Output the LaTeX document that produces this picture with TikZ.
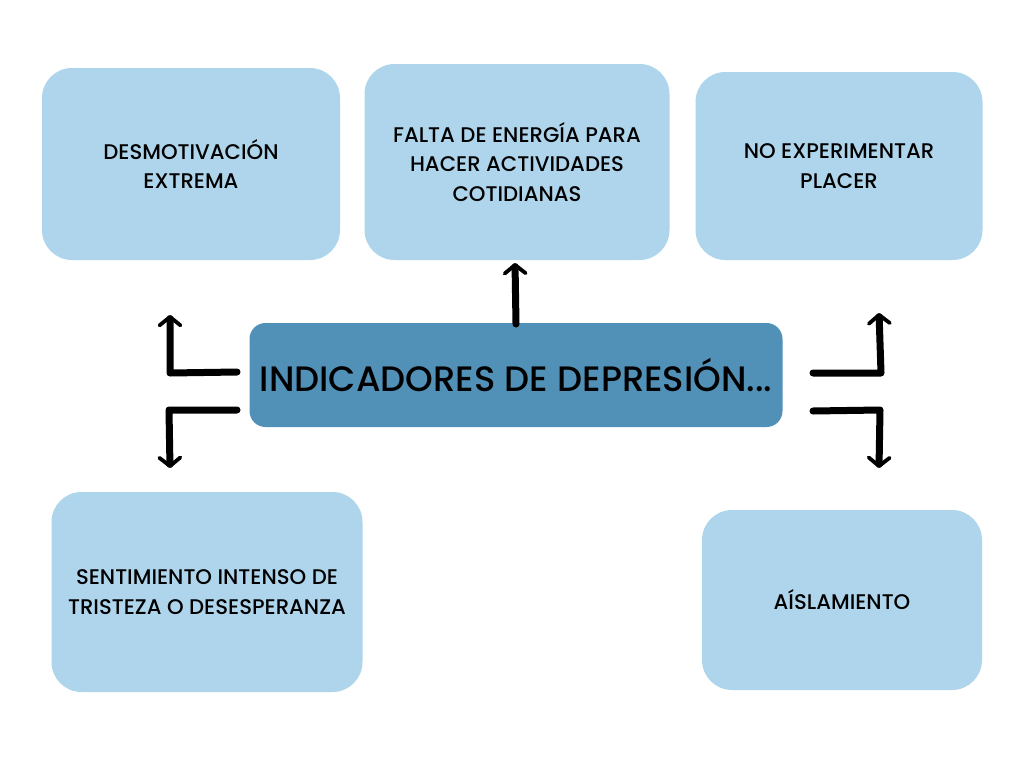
\documentclass[tikz,border=0pt]{standalone}
\usepackage{fontspec}
\setmainfont{Poppins}
\newfontfamily\medfont{Poppins Medium}
\usetikzlibrary{arrows.meta}
\definecolor{boxlight}{HTML}{AED5EB}
\definecolor{boxdark}{HTML}{5191B8}
\tikzset{
  lbox/.style={fill=boxlight, rounded corners=30pt, draw=none, align=center,
    font=\medfont\fontsize{21.2}{29.5}\selectfont},
  cbox/.style={fill=boxdark, rounded corners=16pt, draw=none,
    font=\medfont\fontsize{35.3}{40}\selectfont},
  arr/.style={line width=7pt, line cap=round, line join=round,
    -{Straight Barb[length=8.5pt,width=21pt,line width=3.8pt,round]}},
}
\begin{document}
\begin{tikzpicture}[x=1pt,y=-1pt]
\useasboundingbox (0,0) rectangle (1024,768);
\fill[white] (0,0) rectangle (1024,768);
% boxes
\node[lbox, minimum width=298pt, minimum height=192pt] (b1) at (191,164) {DESMOTIVACIÓN\\EXTREMA};
\node[lbox, minimum width=305pt, minimum height=196pt] (b2) at (517,162) {FALTA DE ENERGÍA PARA\\HACER ACTIVIDADES\\COTIDIANAS};
\node[lbox, minimum width=287pt, minimum height=188pt] (b3) at (839,166) {NO EXPERIMENTAR\\PLACER};
\node[lbox, minimum width=311pt, minimum height=200pt] (b4) at (207,592) {SENTIMIENTO INTENSO DE\\TRISTEZA O DESESPERANZA};
\node[lbox, minimum width=280pt, minimum height=180pt] (b5) at (842,600) {AÍSLAMIENTO};
% centre
\node[cbox, minimum width=533pt, minimum height=104pt] (c) at (516,375) {INDICADORES DE DEPRESIÓN...};
% coordinates
\coordinate (l1s) at (237,372);
\coordinate (l1k) at (170,373);
\coordinate (l1e) at (170,315);
\coordinate (l2s) at (237,410);
\coordinate (l2k) at (169,410);
\coordinate (l2e) at (170,468);
\coordinate (r1s) at (813,373);
\coordinate (r1k) at (881,373);
\coordinate (r1e) at (879,313);
\coordinate (r2s) at (813,411);
\coordinate (r2k) at (880,410);
\coordinate (r2e) at (879,468);
\coordinate (ts) at (516,324);
\coordinate (te) at (515,263);
% arrows
\draw[arr] (l1s) -- (l1k) -- (l1e);
\draw[arr] (l2s) -- (l2k) -- (l2e);
\draw[arr] (r1s) -- (r1k) -- (r1e);
\draw[arr] (r2s) -- (r2k) -- (r2e);
\draw[arr] (ts) -- (te);
\end{tikzpicture}
\end{document}
